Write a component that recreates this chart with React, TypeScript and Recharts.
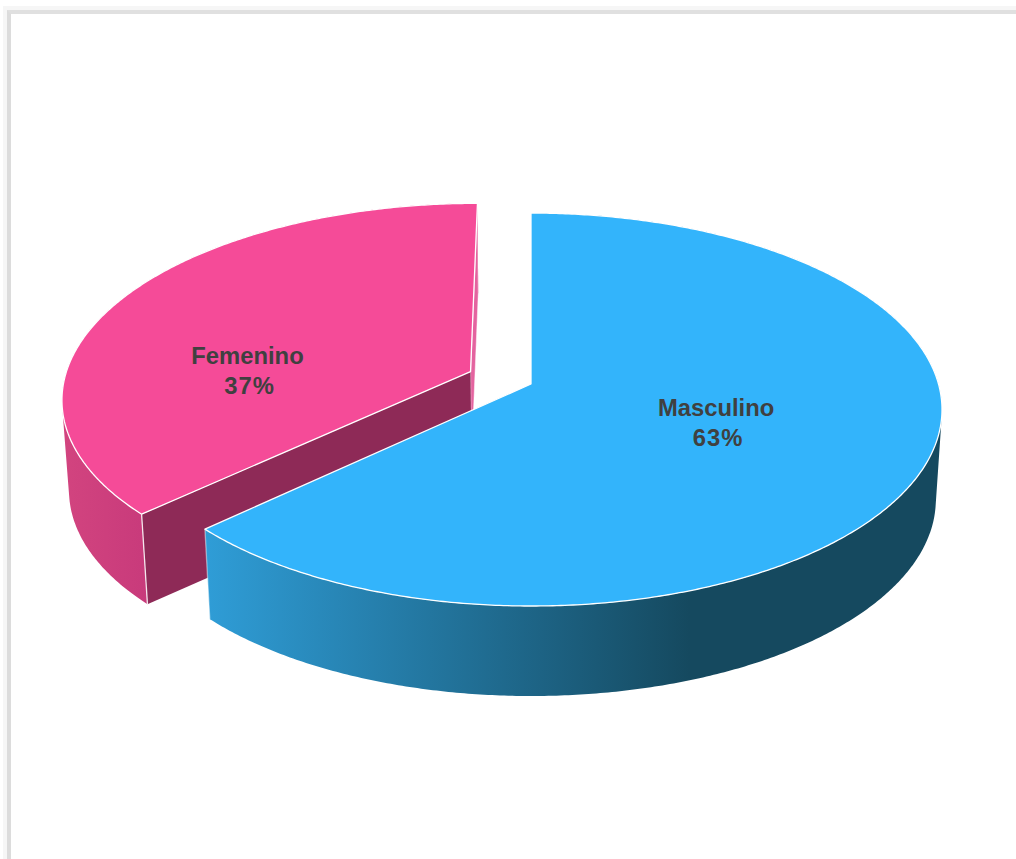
import React from 'react';
import { PieChart, Pie } from 'recharts';

const categories = ['Femenino', 'Masculino'];
const values = [37, 63];
const exploded = 'Femenino';
const chartData = categories.map((name, i) => ({ name, value: values[i] }));
const total = values.reduce((a, b) => a + b, 0);

const faceColors: Record<string, string> = { Femenino: '#F54B98', Masculino: '#33B4FB' };
const wallStops: Record<string, [string, string]> = {
  Femenino: ['#D2447F', '#C83A7B'],
  Masculino: ['#2F9DD7', '#15495F'],
};
const wallSpan: Record<string, [number, number]> = { Femenino: [63, 149], Masculino: [205, 690] };
const innerWall = '#8E2A57';
const sliverColor = '#E4639F';
const labelPlace: Record<string, [number, number]> = { Femenino: [0.555, 270.6], Masculino: [0.48, 113.4] };

const VERT = 0.474;
const PERSP = 0.13;
const EXPLODE = 0.163;
const DEPTH = 90;
const DEPTH_SCALE = 0.985;
const rad = (d: number) => (d * Math.PI) / 180;

type Pt = [number, number];

function makeProject(cx: number, cy: number, R: number, ox: number, oz: number) {
  return (theta: number, r: number, low = false): Pt => {
    const X = r * Math.sin(rad(theta)) + ox;
    const Z = r * Math.cos(rad(theta)) + oz;
    const den = 1 + PERSP * Z;
    let x = (R * X) / den;
    let y = (-R * VERT * Z) / den;
    if (low) {
      x *= DEPTH_SCALE;
      y += DEPTH;
    }
    return [cx + x, cy + y];
  };
}

function offsetFor(name: string, midTheta: number): [number, number] {
  if (name !== exploded) return [0, 0];
  return [EXPLODE * Math.sin(rad(midTheta)), EXPLODE * Math.cos(rad(midTheta))];
}

const toPath = (pts: Pt[]) =>
  'M' + pts.map((p) => `${p[0].toFixed(2)},${p[1].toFixed(2)}`).join('L') + 'Z';

function arc(from: number, to: number, fn: (t: number) => Pt) {
  const pts: Pt[] = [];
  const n = Math.max(2, Math.ceil(Math.abs(to - from) * 2));
  for (let i = 0; i <= n; i++) pts.push(fn(from + ((to - from) * i) / n));
  return pts;
}

function signedArea(q: Pt[]) {
  let s = 0;
  q.forEach((a, i) => {
    const b = q[(i + 1) % q.length];
    s += a[0] * b[1] - b[0] * a[1];
  });
  return s;
}

// side band as a sweep of small quads, all wound the same way, so the tangent
// silhouette between the upper and lower rim is filled
function sweepPath(top: Pt[], low: Pt[]) {
  let d = '';
  for (let i = 0; i < top.length - 1; i++) {
    const q: Pt[] = [top[i], top[i + 1], low[i + 1], low[i]];
    if (signedArea(q) < 0) q.reverse();
    d += toPath(q);
  }
  return d;
}

function Slice3D(props: any) {
  const { cx, cy, outerRadius, startAngle, endAngle, name } = props;
  const t0 = 90 - startAngle;
  const t1 = 90 - endAngle;
  const mid = (t0 + t1) / 2;
  const [ox, oz] = offsetFor(name, mid);
  const p = makeProject(cx, cy, outerRadius, ox, oz);
  const gid = `wall-${name}`;
  const span = wallSpan[name];
  const topRim = arc(t0, t1, (t) => p(t, 1));
  const lowRim = arc(t0, t1, (t) => p(t, 1, true));
  const rimStart = p(name === exploded ? t0 : t1, 1);
  const rimStartLow = p(name === exploded ? t0 : t1, 1, true);
  const apex = p(0, 0);
  const apexLow = p(0, 0, true);
  return (
    <g>
      <defs>
        <linearGradient id={gid} gradientUnits="userSpaceOnUse" x1={span[0]} x2={span[1]} y1={0} y2={0}>
          <stop offset="0" stopColor={wallStops[name][0]} />
          <stop offset="1" stopColor={wallStops[name][1]} />
        </linearGradient>
      </defs>
      <path d={sweepPath(topRim, lowRim)} fill={`url(#${gid})`} fillRule="nonzero" />
      {name === exploded && (
        <>
          <path d={toPath([p(t1, 1), apex, apexLow, p(t1, 1, true)])} fill={sliverColor} stroke="#fff" strokeOpacity={0.6} strokeWidth={0.8} />
          <path d={toPath([apex, rimStart, rimStartLow, apexLow])} fill={innerWall} />
        </>
      )}
      <line x1={rimStart[0]} y1={rimStart[1]} x2={rimStartLow[0]} y2={rimStartLow[1]} stroke="#fff" strokeOpacity={name === exploded ? 0.85 : 0.45} strokeWidth={1.3} />
      <path d={toPath([apex, ...topRim])} fill={faceColors[name]} stroke="#fff" strokeWidth={1.3} strokeLinejoin="round" />
    </g>
  );
}

function renderLabel(props: any) {
  const { cx, cy, outerRadius, name, value, startAngle, endAngle } = props;
  const mid = 90 - (startAngle + endAngle) / 2;
  const [ox, oz] = offsetFor(name, mid);
  const [r, th] = labelPlace[name];
  const [x, y] = makeProject(cx, cy, outerRadius, ox, oz)(th, r);
  const pct = Math.round((value / total) * 100);
  return (
    <text x={x} y={y} textAnchor="middle" fontFamily="'Liberation Sans', Arial, sans-serif" fontWeight="bold" fontSize={23.8} fill="#404040">
      <tspan x={x + 1} dy={-6}>{name}</tspan>
      <tspan x={x + 3} dy={30} letterSpacing={1}>{pct}%</tspan>
    </text>
  );
}

const masculinoShare = values[1] / total;
const startAngle = 90 - masculinoShare * 360;

export default function App() {
  return (
    <div style={{ position: 'absolute', left: 0, top: 0, width: 1016, height: 859, overflow: 'hidden', background: '#fff' }}>
      <div style={{ position: 'absolute', left: 3, top: 6, width: 1040, height: 900, borderLeft: '4px solid #f6f6f6', borderTop: '4px solid #f6f6f6' }} />
      <div style={{ position: 'absolute', left: 7, top: 10, width: 1040, height: 900, borderLeft: '4px solid #dcdcdc', borderTop: '4px solid #e0e0e0' }} />
      <div style={{ position: 'absolute', left: 0, top: 0 }}>
        <PieChart width={1016} height={859} margin={{ top: 0, right: 0, bottom: 0, left: 0 }}>
          <Pie
            data={chartData}
            dataKey="value"
            nameKey="name"
            cx={531}
            cy={384}
            innerRadius={0}
            outerRadius={407.5}
            startAngle={startAngle}
            endAngle={startAngle - 360}
            stroke="none"
            isAnimationActive={false}
            shape={Slice3D}
            label={renderLabel}
            labelLine={false}
          />
        </PieChart>
      </div>
    </div>
  );
}
